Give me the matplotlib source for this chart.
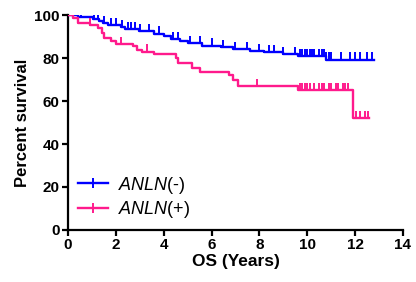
import numpy as np
import matplotlib
matplotlib.use("Agg")
import matplotlib.pyplot as plt

plt.rcParams["font.family"] = ["Liberation Sans", "DejaVu Sans"]
plt.rcParams["mathtext.fontset"] = "custom"
plt.rcParams["mathtext.it"] = "Liberation Sans:italic"
plt.rcParams["mathtext.rm"] = "Liberation Sans"

# ANLN(-) group: step times (years) and survival (%)
neg_times = [0, 0.42, 1.04, 1.3, 1.46, 1.67, 2.2, 2.4, 2.95, 3.6, 4.0, 4.3,
             4.7, 5.0, 5.6, 6.4, 6.9, 7.6, 8.2, 9.0, 9.6, 10.8, 12.8]
neg_surv = [100, 99.0, 98.1, 97.2, 96.4, 95.3, 94.4, 93.6, 92.4, 91.3, 90.3,
            88.9, 87.9, 86.8, 85.8, 85.0, 84.2, 83.3, 82.6, 81.7, 80.9, 79.3, 79.3]
neg_censor = [0.3, 0.55, 1.1, 1.25, 1.5, 1.8, 2.0, 2.25, 2.5, 2.65, 2.8, 3.0,
              3.4, 3.8, 4.4, 4.6, 5.1, 5.5, 6.0, 6.5, 7.0, 7.5, 8.0, 8.4,
              8.6, 9.0, 9.5, 9.7, 9.8, 9.9, 10.0, 10.1, 10.2, 10.3, 10.5,
              10.6, 10.7, 10.8, 10.9, 11.0, 11.4, 11.8, 12.0, 12.2, 12.5, 12.7]

# ANLN(+) group
pos_times = [0, 0.2, 0.42, 0.9, 1.25, 1.4, 1.5, 1.8, 2.0, 2.7, 2.9, 3.1, 3.6,
             4.5, 4.6, 5.2, 5.5, 6.75, 6.9, 7.1, 9.6, 11.9, 12.6]
pos_surv = [100, 98.6, 96.3, 95.2, 94.0, 91.6, 89.3, 87.8, 86.5, 85.5, 83.7,
            83.0, 81.9, 79.9, 77.5, 75.2, 73.6, 72.1, 69.8, 67.0, 65.1, 52.0, 52.0]
pos_censor = [0.92, 2.2, 3.3, 7.9, 9.7, 9.8, 9.9, 10.0, 10.1, 10.3, 10.5,
              10.6, 10.7, 10.9, 11.0, 11.2, 11.3, 11.5, 11.6, 11.7,
              12.05, 12.2, 12.4, 12.55]

blue = "#0000FF"
pink = "#FF1A8C"


def surv_at(times, surv, t):
    idx = np.searchsorted(times, t, side="right") - 1
    return np.array(surv)[idx]


fig = plt.figure(figsize=(4.16, 2.82), dpi=100)
ax = fig.add_axes([0.1635, 0.1844, 0.805, 0.7624])

for times, surv, cens, col, lab in [
    (neg_times, neg_surv, neg_censor, blue, r"$\it{ANLN}$(-)"),
    (pos_times, pos_surv, pos_censor, pink, r"$\it{ANLN}$(+)"),
]:
    ax.step(times, surv, where="post", color=col, lw=1.7, zorder=3)
    ax.plot(cens, surv_at(times, surv, cens) + 1.5, ls="none", marker="|",
            ms=6, mew=1.4, color=col, zorder=3)
    ax.plot([], [], color=col, lw=1.7, marker="|", ms=7, mew=1.4, label=lab)

ax.set_xlim(0, 14)
ax.set_ylim(0, 100)
ax.set_xticks(range(0, 15, 2))
ax.set_yticks(range(0, 101, 20))
for s in ["top", "right"]:
    ax.spines[s].set_visible(False)
for s in ["left", "bottom"]:
    ax.spines[s].set_linewidth(1.6)
ax.tick_params(width=1.6, length=4, labelsize=11, pad=2)
for lbl in ax.get_xticklabels() + ax.get_yticklabels():
    lbl.set_fontweight("bold")
ax.set_xlabel("OS (Years)", fontsize=12.5, fontweight="bold", labelpad=1)
ax.set_ylabel("Percent survival", fontsize=12, fontweight="bold", labelpad=3)

ax.legend(loc="lower left", bbox_to_anchor=(-0.02, -0.03), frameon=False,
          fontsize=13, handlelength=1.7, handletextpad=0.55, labelspacing=0.2)

fig.savefig("out.png", dpi=100)
